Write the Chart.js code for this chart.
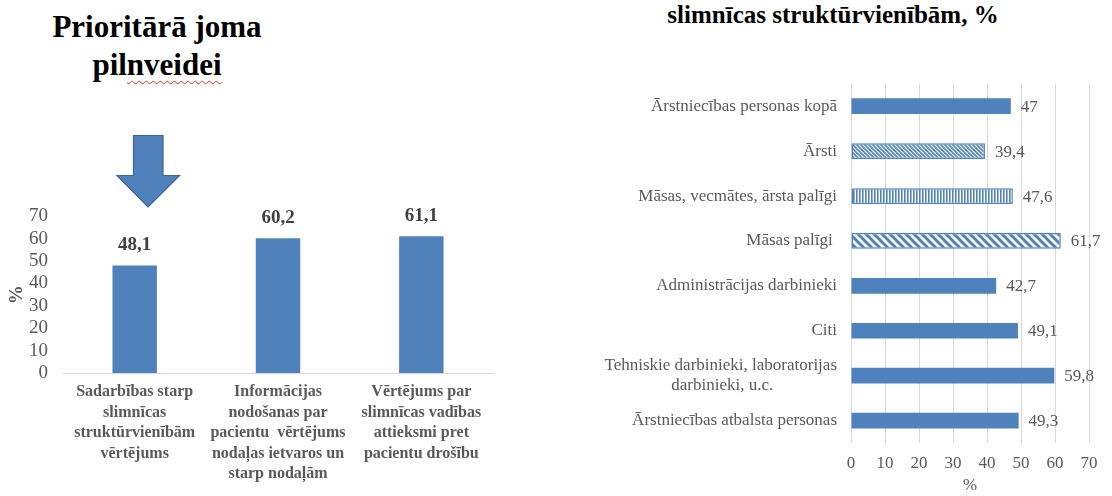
<!DOCTYPE html>
<html>
<head>
<meta charset="utf-8">
<script src="https://cdn.jsdelivr.net/npm/chart.js@4.4.1/dist/chart.umd.min.js"></script>
<style>
  html, body { margin: 0; padding: 0; background: #fff; }
  body { width: 1112px; height: 496px; position: relative; overflow: hidden; font-family: 'Liberation Serif', 'Times New Roman', serif; }
  .title { position: absolute; font-weight: bold; color: #000; text-align: center; white-space: nowrap; }
  #t1 { left: 0; top: 8px; width: 314px; font-size: 31px; line-height: 38px; }
  #t2 { left: 580px; top: 2px; width: 506px; font-size: 25px; line-height: 25px; }
  .wavy { text-decoration: underline wavy #e03030; text-decoration-thickness: 1px; text-underline-offset: 5px; }
  #c1wrap { position: absolute; left: 0; top: 190px; width: 520px; height: 306px; }
  #c2wrap { position: absolute; left: 580px; top: 60px; width: 532px; height: 436px; }
  #arrow { position: absolute; left: 0; top: 0; }
</style>
</head>
<body>
<div class="title" id="t1">Prioritārā joma<br>pil<span class="wavy">nveidei</span></div>
<div class="title" id="t2">slimnīcas struktūrvienībām, %</div>
<svg id="arrow" width="300" height="230">
  <polygon points="133.5,135.5 163,135.5 163,175.5 179.5,175.5 148,207 117,175.5 133.5,175.5" fill="#4f81bd" stroke="#3a6496" stroke-width="1.2"/>
</svg>
<div id="c1wrap"><canvas id="c1"></canvas></div>
<div id="c2wrap"><canvas id="c2"></canvas></div>
<script>
// ---------- Data: left chart ----------
const leftCategories = [
  ['Sadarbības starp', 'slimnīcas', 'struktūrvienībām', 'vērtējums'],
  ['Informācijas', 'nodošanas par', 'pacientu  vērtējums', 'nodaļas ietvaros un', 'starp nodaļām'],
  ['Vērtējums par', 'slimnīcas vadības', 'attieksmi pret', 'pacientu drošību']
];
const leftValues = [48.1, 60.2, 61.1];
const leftTicks = [0, 10, 20, 30, 40, 50, 60, 70];

// ---------- Data: right chart ----------
const rightCategories = [
  'Ārstniecības personas kopā',
  'Ārsti',
  'Māsas, vecmātes, ārsta palīgi',
  'Māsas palīgi\u00A0',
  'Administrācijas darbinieki',
  'Citi',
  ['Tehniskie darbinieki, laboratorijas', 'darbinieki, u.c.'],
  'Ārstniecības atbalsta personas'
];
const rightValues = [47, 39.4, 47.6, 61.7, 42.7, 49.1, 59.8, 49.3];
const rightFills = ['solid', 'diag', 'vert', 'wideDiag', 'solid', 'solid', 'solid', 'solid'];
const rightTicks = [0, 10, 20, 30, 40, 50, 60, 70];

const FONT = "'Liberation Serif', 'Times New Roman', serif";
const BLUE = '#4f81bd';
const GRAY = '#595959';

function fmt(v) { return String(v).replace('.', ','); }

// Centre the second line of a two-line right-chart label under the first
(function () {
  const cx = document.createElement('canvas').getContext('2d');
  cx.font = '17px ' + FONT;
  rightCategories.forEach((c, i) => {
    if (Array.isArray(c) && c.length === 2) {
      const w1 = cx.measureText(c[0]).width, w2 = cx.measureText(c[1]).width;
      const sp = cx.measureText('\u00A0').width;
      const n = Math.max(0, Math.round((w1 - w2) / 2 / sp));
      rightCategories[i] = [c[0], c[1] + '\u00A0'.repeat(n)];
    }
  });
})();

function makePattern(kind) {
  const c = document.createElement('canvas');
  const ctx = c.getContext('2d');
  if (kind === 'vert') {
    c.width = 3; c.height = 3;
    ctx.fillStyle = '#ffffff'; ctx.fillRect(0, 0, 3, 3);
    ctx.fillStyle = BLUE; ctx.fillRect(0, 0, 1.6, 3);
    return ctx.createPattern(c, 'repeat');
  }
  const s = kind === 'diag' ? 4 : 8;
  const lw = kind === 'diag' ? 1.6 : 3;
  c.width = s; c.height = s;
  ctx.fillStyle = '#ffffff'; ctx.fillRect(0, 0, s, s);
  ctx.strokeStyle = BLUE; ctx.lineWidth = lw;
  for (const off of [-s, 0, s]) {
    ctx.beginPath();
    ctx.moveTo(off - 1, -1);
    ctx.lineTo(off + s + 1, s + 1);
    ctx.stroke();
  }
  return ctx.createPattern(c, 'repeat');
}

// ---------- Left chart ----------
const leftLabelsPlugin = {
  id: 'leftLabels',
  afterDatasetsDraw(chart) {
    const ctx = chart.ctx;
    const meta = chart.getDatasetMeta(0);
    ctx.save();
    ctx.font = 'bold 19px ' + FONT;
    ctx.fillStyle = '#404040';
    ctx.textAlign = 'center';
    ctx.textBaseline = 'middle';
    meta.data.forEach((el, i) => {
      ctx.fillText(fmt(leftValues[i]), el.x, el.y - 20);
    });
    ctx.restore();
  }
};

new Chart(document.getElementById('c1'), {
  type: 'bar',
  data: {
    labels: leftCategories,
    datasets: [{
      data: leftValues,
      backgroundColor: BLUE,
      borderWidth: 0,
      categoryPercentage: 1,
      barPercentage: 0.31
    }]
  },
  options: {
    responsive: true,
    maintainAspectRatio: false,
    animation: false,
    layout: { padding: { top: 23, right: 27, left: 0, bottom: 0 } },
    plugins: { legend: { display: false }, tooltip: { enabled: false } },
    scales: {
      y: {
        min: 0, max: 70,
        afterBuildTicks(s) { s.ticks = leftTicks.map(v => ({ value: v })); },
        afterFit(s) { s.width = 63; },
        grid: { display: false, drawTicks: false },
        border: { display: false },
        ticks: { font: { family: FONT, size: 19 }, color: GRAY, padding: 15, autoSkip: false },
        title: { display: true, text: '%', font: { family: FONT, size: 19, weight: 'bold' }, color: GRAY, padding: { top: 6, bottom: 0 } }
      },
      x: {
        afterFit(s) { s.height = 123; },
        grid: { display: false, drawTicks: false },
        border: { display: true, color: '#d9d9d9', width: 1 },
        ticks: { font: { family: FONT, size: 16, weight: 'bold', lineHeight: 1.28 }, color: GRAY, padding: 9, maxRotation: 0, minRotation: 0, autoSkip: false }
      }
    }
  },
  plugins: [leftLabelsPlugin]
});

// ---------- Right chart ----------
const rightLabelsPlugin = {
  id: 'rightLabels',
  afterDatasetsDraw(chart) {
    const ctx = chart.ctx;
    const meta = chart.getDatasetMeta(0);
    ctx.save();
    ctx.font = '17px ' + FONT;
    ctx.fillStyle = GRAY;
    ctx.textAlign = 'left';
    ctx.textBaseline = 'middle';
    meta.data.forEach((el, i) => {
      ctx.fillText(fmt(rightValues[i]), el.x + 10, el.y + 1);
    });
    ctx.restore();
  }
};

new Chart(document.getElementById('c2'), {
  type: 'bar',
  data: {
    labels: rightCategories,
    datasets: [{
      data: rightValues,
      backgroundColor: rightFills.map(k => k === 'solid' ? BLUE : makePattern(k)),
      borderColor: BLUE,
      borderWidth: rightFills.map(k => k === 'solid' ? 0 : 1.5),
      borderSkipped: false,
      categoryPercentage: 1,
      barPercentage: 0.35
    }]
  },
  options: {
    indexAxis: 'y',
    responsive: true,
    maintainAspectRatio: false,
    animation: false,
    layout: { padding: { top: 18, right: 23, left: 0, bottom: 0 } },
    plugins: { legend: { display: false }, tooltip: { enabled: false } },
    scales: {
      x: {
        min: 0, max: 70,
        afterBuildTicks(s) { s.ticks = rightTicks.map(v => ({ value: v })); },
        afterFit(s) { s.height = 53; },
        grid: { color: '#d9d9d9', lineWidth: 1, drawTicks: false },
        border: { display: false },
        ticks: { font: { family: FONT, size: 17 }, color: GRAY, padding: 10, autoSkip: false },
        title: { display: true, text: '%', font: { family: FONT, size: 17 }, color: GRAY, padding: 0 }
      },
      y: {
        afterFit(s) { s.width = 271; },
        grid: { display: false, drawTicks: false },
        border: { display: false },
        ticks: { font: { family: FONT, size: 17, lineHeight: 1.15 }, color: GRAY, padding: 14, autoSkip: false }
      }
    }
  },
  plugins: [rightLabelsPlugin]
});
</script>
</body>
</html>
